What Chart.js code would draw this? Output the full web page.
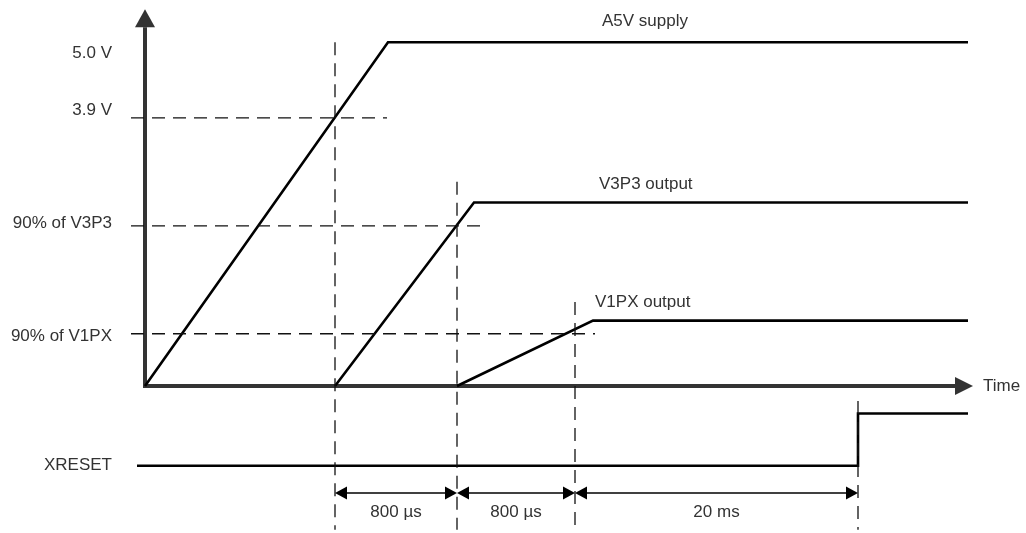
<!DOCTYPE html>
<html>
<head>
<meta charset="utf-8">
<script src="https://cdn.jsdelivr.net/npm/chart.js@4.4.1/dist/chart.umd.min.js"></script>
<style>
body { margin: 0; background: #fff; }
#wrap { width: 1026px; height: 533px; position: relative; }
</style>
</head>
<body>
<div id="wrap"><canvas id="timing"></canvas></div>
<script>
// time is in diagram units (not to scale), levels in volts
const timeA5V = [0, 24.3, 82.3];
const voltA5V = [0, 5.0, 5.0];
const timeV3P3 = [19.0, 32.9, 82.3];
const voltV3P3 = [0, 2.67, 2.67];
const timeV1PX = [31.2, 44.8, 82.3];
const voltV1PX = [0, 0.95, 0.95];
const timeXRESET = [-0.8, 71.3, 71.3, 82.3];
const levelXRESET = [-1.16, -1.16, -0.40, -0.40];

// threshold guides (horizontal dashed)
const thresholdValues = [3.9, 2.33, 0.76];
const thresholdEnds = [24.2, 33.5, 45.0];
// event markers (vertical dashed)
const markerTimes = [19.0, 31.2, 43.0, 71.3];
const markerTops = [5.0, 2.97, 1.22, -0.22];
const intervalLabels = ['800 µs', '800 µs', '20 ms'];

// left side labels
const yLabelValues = [5.0, 3.9, 2.33, 0.76, -1.16];
const yLabelTexts = ['5.0 V', '3.9 V', '90% of V3P3', '90% of V1PX', 'XRESET'];
const signalNames = ['A5V supply', 'V3P3 output', 'V1PX output'];

const inkColor = '#000';
const axisColor = '#333';
const textColor = '#333';
const fontSpec = '17px "Liberation Sans", Arial, sans-serif';

function pts(xs, ys) {
    return xs.map(function(t, i) { return {x: t, y: ys[i]}; });
}

function solid(data) {
    return {data: data, showLine: true, borderColor: inkColor, borderWidth: 2.6,
            pointRadius: 0, fill: false, borderJoinStyle: 'miter'};
}
function dashed(data) {
    return {data: data, showLine: true, borderColor: '#111', borderWidth: 1.3,
            borderDash: [13, 8], pointRadius: 0, fill: false};
}

const guideStart = -1.4;
const markerBottom = -2.09;
let datasets = [];
thresholdValues.forEach(function(v, i) {
    datasets.push(dashed([{x: guideStart, y: v}, {x: thresholdEnds[i], y: v}]));
});
markerTimes.forEach(function(t, i) {
    datasets.push(dashed([{x: t, y: markerTops[i]}, {x: t, y: markerBottom}]));
});
datasets.push(solid(pts(timeA5V, voltA5V)));
datasets.push(solid(pts(timeV3P3, voltV3P3)));
datasets.push(solid(pts(timeV1PX, voltV1PX)));
datasets.push(solid(pts(timeXRESET, levelXRESET)));

const decor = {
    id: 'decor',
    beforeDatasetsDraw(chart) {
        const ctx = chart.ctx;
        const x = chart.scales.x, y = chart.scales.y;
        const ox = x.getPixelForValue(0), oy = y.getPixelForValue(0);
        ctx.save();
        ctx.strokeStyle = axisColor;
        ctx.fillStyle = axisColor;
        ctx.lineWidth = 4;
        // voltage axis
        let base = y.getPixelForValue(5.22), tip = y.getPixelForValue(5.48);
        ctx.beginPath(); ctx.moveTo(ox, oy + 2); ctx.lineTo(ox, base); ctx.stroke();
        ctx.beginPath(); ctx.moveTo(ox - 10, base); ctx.lineTo(ox, tip); ctx.lineTo(ox + 10, base);
        ctx.closePath(); ctx.fill();
        // time axis
        base = x.getPixelForValue(81.0); tip = x.getPixelForValue(82.8);
        ctx.beginPath(); ctx.moveTo(ox - 2, oy); ctx.lineTo(base, oy); ctx.stroke();
        ctx.beginPath(); ctx.moveTo(base, oy - 9); ctx.lineTo(tip, oy); ctx.lineTo(base, oy + 9);
        ctx.closePath(); ctx.fill();
        ctx.restore();
    },
    afterDatasetsDraw(chart) {
        const ctx = chart.ctx;
        const x = chart.scales.x, y = chart.scales.y;
        ctx.save();
        // interval arrows
        const ay = y.getPixelForValue(-1.557);
        const ty = y.getPixelForValue(-1.833);
        ctx.strokeStyle = inkColor;
        ctx.fillStyle = inkColor;
        ctx.lineWidth = 1.4;
        for (let i = 0; i < intervalLabels.length; i++) {
            const x1 = x.getPixelForValue(markerTimes[i]);
            const x2 = x.getPixelForValue(markerTimes[i + 1]);
            ctx.beginPath(); ctx.moveTo(x1 + 6, ay); ctx.lineTo(x2 - 6, ay); ctx.stroke();
            ctx.beginPath(); ctx.moveTo(x1, ay); ctx.lineTo(x1 + 12, ay - 6.5); ctx.lineTo(x1 + 12, ay + 6.5);
            ctx.closePath(); ctx.fill();
            ctx.beginPath(); ctx.moveTo(x2, ay); ctx.lineTo(x2 - 12, ay - 6.5); ctx.lineTo(x2 - 12, ay + 6.5);
            ctx.closePath(); ctx.fill();
            ctx.font = fontSpec;
            ctx.textAlign = 'center';
            ctx.textBaseline = 'middle';
            ctx.fillStyle = textColor;
            ctx.fillText(intervalLabels[i], (x1 + x2) / 2, ty);
            ctx.fillStyle = inkColor;
        }

        ctx.font = fontSpec;
        ctx.fillStyle = textColor;
        ctx.textBaseline = 'middle';
        // level labels, right aligned left of the axis
        const nudge = [11, -8, -2, 3, 0];
        ctx.textAlign = 'right';
        yLabelValues.forEach(function(v, i) {
            ctx.fillText(yLabelTexts[i], 112, y.getPixelForValue(v) + nudge[i]);
        });
        // signal names
        const namePos = [[45.7, 5.30], [45.4, 2.94], [45.0, 1.21]];
        ctx.textAlign = 'left';
        signalNames.forEach(function(name, i) {
            ctx.fillText(name, x.getPixelForValue(namePos[i][0]), y.getPixelForValue(namePos[i][1]));
        });
        ctx.fillText('Time', x.getPixelForValue(83.8), y.getPixelForValue(0));
        ctx.restore();
    }
};

document.addEventListener('DOMContentLoaded', function() {
    let canvas = document.querySelector('#timing').getContext('2d');
    let timingChart = new Chart(canvas, {
        type: 'scatter',
        data: { datasets: datasets },
        options: {
            responsive: true,
            maintainAspectRatio: false,
            animation: false,
            layout: { padding: 0 },
            plugins: { legend: { display: false }, tooltip: { enabled: false } },
            scales: {
                x: { type: 'linear', display: false, min: -14.5, max: 88.1 },
                y: { type: 'linear', display: false, min: -2.139, max: 5.615 }
            }
        },
        plugins: [decor]
    });
});
</script>
</body>
</html>
